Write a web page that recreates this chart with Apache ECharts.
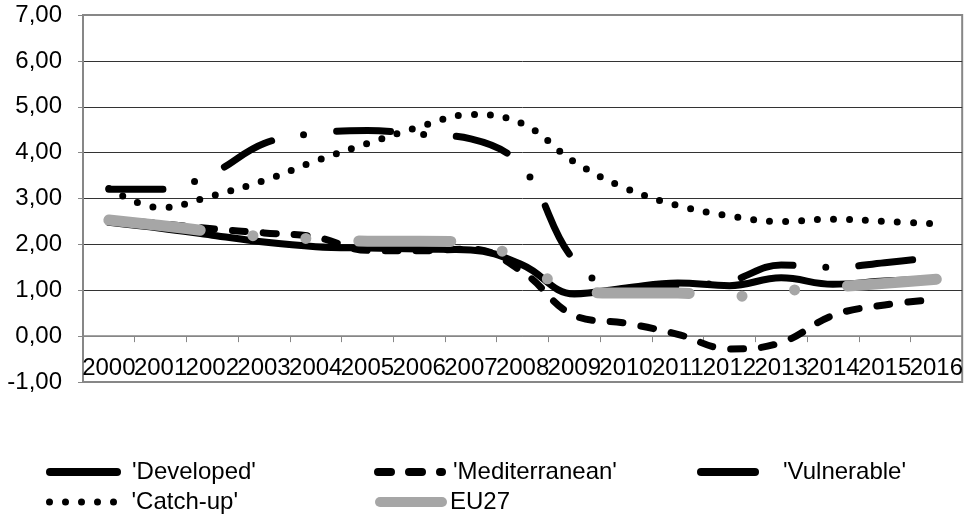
<!DOCTYPE html>
<html>
<head>
<meta charset="utf-8">
<script src="https://cdn.jsdelivr.net/npm/echarts@6/dist/echarts.min.js"></script>
<style>
  html, body { margin: 0; padding: 0; background: #ffffff; }
  #chart { width: 966px; height: 515px; }
</style>
</head>
<body>
<div id="chart"></div>
<script>
// Categories (years) and one value array per country group
const years = ['2000', '2001', '2002', '2003', '2004', '2005', '2006', '2007', '2008',
               '2009', '2010', '2011', '2012', '2013', '2014', '2015', '2016'];

const developed     = [2.48, 2.35, 2.20, 2.05, 1.95, 1.92, 1.90, 1.88, 1.55, 0.92, 1.05, 1.16, 1.10, 1.27, 1.13, 1.20, 1.25];
const mediterranean = [2.55, 2.45, 2.34, 2.25, 2.16, 1.87, 1.86, 1.90, 1.40, 0.45, 0.28, 0.04, -0.28, -0.14, 0.45, 0.68, 0.80];
const vulnerable    = [3.20, 3.20, 3.55, 4.20, 4.42, 4.48, 4.40, 4.30, 3.68, 1.65, 1.00, 1.10, 1.20, 1.55, 1.50, 1.60, 1.72];
const catchUp       = [3.22, 2.80, 3.06, 3.39, 3.82, 4.20, 4.56, 4.83, 4.63, 3.80, 3.22, 2.85, 2.62, 2.50, 2.55, 2.50, 2.45];
const eu27          = [2.53, 2.41, 2.28, 2.17, 2.12, 2.07, 2.07, 2.05, 1.62, 0.98, 0.94, 0.94, 0.86, 0.98, 1.07, 1.15, 1.24];

// Value axis range and step
const yMin = -1;
const yMax = 7;
const yStep = 1;

// Plot box
const GRID = { left: 83, right: 3, top: 15, bottom: 133 };
const CHART_H = 515;
const plotH = CHART_H - GRID.top - GRID.bottom;
// The category axis sits on the zero line: lift it from the bottom edge by the height of [yMin, 0]
const zeroLift = plotH * (0 - yMin) / (yMax - yMin);

const FONT = '"Liberation Sans", Arial, sans-serif';
const AXIS_GREY = '#878787';

const chart = echarts.init(document.getElementById('chart'), null, { renderer: 'canvas' });

function lineSeries(name, data, color, width, dash) {
  return {
    name: name,
    type: 'line',
    data: data,
    smooth: 0.4,
    symbol: 'none',
    silent: true,
    lineStyle: { color: color, width: width, type: dash, cap: 'round', join: 'round' },
    itemStyle: { color: color }
  };
}

function legendItem(name, left, top, itemWidth, lineWidth, dash, textPad) {
  return {
    data: [name],
    left: left,
    top: top,
    padding: 0,
    itemWidth: itemWidth,
    itemHeight: 14,
    selectedMode: false,
    itemStyle: { opacity: 0 },
    lineStyle: { width: lineWidth, type: dash, cap: 'round' },
    textStyle: { fontFamily: FONT, fontSize: 24, color: '#000', padding: [0, 0, 0, textPad] }
  };
}

const dashMed  = [13, 18];
const dashVul  = [54, 33, 0, 33];
const dashDot  = [0, 16];
const dashEU   = [92, 53, 0, 53, 0, 53];

chart.setOption({
  animation: false,
  backgroundColor: '#ffffff',
  grid: {
    left: GRID.left, right: GRID.right, top: GRID.top, bottom: GRID.bottom,
    show: true, borderColor: AXIS_GREY, borderWidth: 2, backgroundColor: '#ffffff'
  },
  legend: [
    legendItem("'Developed'",     46, 460, 67, 8, 'solid', 10),
    legendItem("'Mediterranean'", 374, 460, 64, 8, dashMed, 6),
    legendItem("'Vulnerable'",    697, 460, 67, 8, dashVul, 10),
    legendItem("'Catch-up'",      46, 490, 67, 7, dashDot, 10),
    legendItem('EU27',            375, 490, 62, 10, 'solid', 3)
  ],
  xAxis: {
    type: 'category',
    data: years,
    boundaryGap: true,
    position: 'bottom',
    offset: -zeroLift,
    axisLine: { onZero: false, lineStyle: { color: AXIS_GREY, width: 1.5 } },
    axisTick: { show: true, inside: false, length: 6, lineStyle: { color: AXIS_GREY } },
    axisLabel: { interval: 0, margin: 20, fontFamily: FONT, fontSize: 24, color: '#000' },
    splitLine: { show: false }
  },
  yAxis: {
    type: 'value',
    min: yMin,
    max: yMax,
    interval: yStep,
    axisLine: { show: true, lineStyle: { color: AXIS_GREY, width: 2 } },
    axisTick: { show: true, length: 5, lineStyle: { color: AXIS_GREY } },
    axisLabel: {
      margin: 21, fontFamily: FONT, fontSize: 24, color: '#000',
      formatter: v => v.toFixed(2).replace('.', ',')
    },
    splitLine: {
      show: true,
      lineStyle: {
        width: 1,
        color: [AXIS_GREY, AXIS_GREY, '#333', '#333', '#333', '#333', '#333', '#333', AXIS_GREY]
      }
    }
  },
  series: [
    lineSeries("'Developed'",     developed,     '#000000', 7, 'solid'),
    lineSeries("'Mediterranean'", mediterranean, '#000000', 7, dashMed),
    lineSeries("'Vulnerable'",    vulnerable,    '#000000', 7, dashVul),
    lineSeries("'Catch-up'",      catchUp,       '#000000', 7, dashDot),
    lineSeries('EU27',            eu27,          '#a6a6a6', 11, dashEU)
  ]
});
</script>
</body>
</html>
